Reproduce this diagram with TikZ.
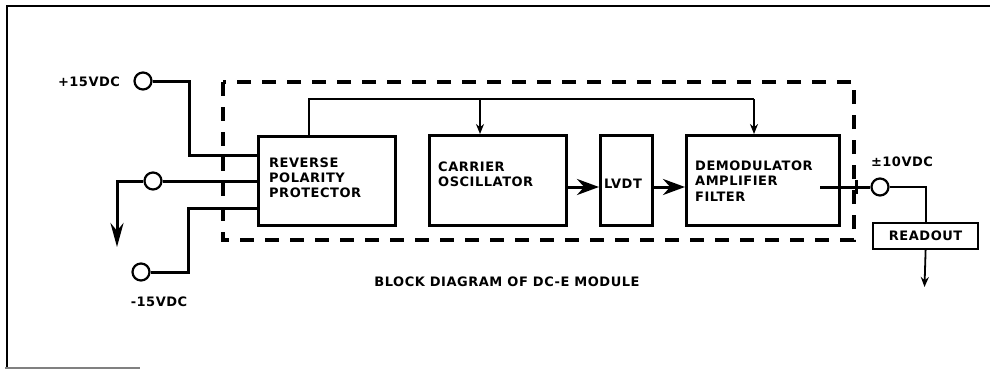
\documentclass[tikz,border=0pt]{standalone}
\usepackage{fontspec}
\setmainfont{DejaVu Sans}[LetterSpace=4]
\usetikzlibrary{arrows.meta}
\begin{document}
\begin{tikzpicture}[x=1pt,y=-1pt,
  font=\fontsize{13}{15.2}\selectfont\bfseries,
  blk/.style={draw, line width=3.4pt, inner sep=0pt, anchor=north west},
  lbl/.style={inner sep=0pt, align=left},
  wire/.style={line width=3pt},
  fbline/.style={line width=1.8pt},
  term/.style={circle, draw, line width=2.2pt, minimum size=17pt, inner sep=0pt, fill=white},
  dashbox/.style={line width=3.4pt, dash pattern=on 14pt off 11pt},
  bigarrow/.style={-{Stealth[length=22pt,width=16pt]}},
  smallarrow/.style={-{Stealth[length=10pt,width=8pt]}},
]
\useasboundingbox (0,0) rectangle (990,369);
% frame
\draw[line width=2.4pt] (990,6) -- (7,6) -- (7,368);
\draw[line width=1.5pt, gray] (5,368) -- (140,368);

% dashed module outline
\draw[dashbox] (223,82) rectangle (854,240);

% blocks
\node[blk, minimum width=137pt, minimum height=89pt] (rpp) at (257,135) {};
\node[blk, minimum width=137pt, minimum height=90pt] (car) at (428,134) {};
\node[blk, minimum width=52pt, minimum height=90pt] (lvdt) at (599,134) {};
\node[blk, minimum width=153pt, minimum height=90pt] (dem) at (685,134) {};
\node[draw, line width=2.2pt, minimum width=105pt, minimum height=26pt, inner sep=0pt, anchor=north west] (rd) at (872,222) {READOUT};

% block texts
\node[lbl, anchor=west] (trpp) at (269,178) {REVERSE\\POLARITY\\PROTECTOR};
\node[lbl, anchor=west] (tcar) at (438,174.5) {CARRIER\\OSCILLATOR};
\node[lbl] (tlvdt) at (623,184) {LVDT};
\node[lbl, anchor=west] (tdem) at (695,181) {DEMODULATOR\\AMPLIFIER\\FILTER};

% terminals
\node[term] (p15) at (143,81) {};
\node[term] (com) at (153,181) {};
\node[term] (m15) at (141,272) {};
\node[term] (out) at (880,187) {};

% terminal labels
\node[lbl] (lp15) at (89,82) {+15VDC};
\node[lbl] (lm15) at (159,302) {-15VDC};
\node[lbl] (lout) at (902,162) {±10VDC};
\node[lbl] (cap) at (507,282) {BLOCK DIAGRAM OF DC-E MODULE};

% supply wiring
\coordinate (b1) at (189,155);
\coordinate (b2) at (188,208);
\coordinate (gnd) at (117,247);
\draw[wire] (p15.east) -| (b1) -- (b1 -| rpp.west);
\draw[wire] (com.east) -- (com.east -| rpp.west);
\draw[wire, -{Stealth[length=24pt,width=13pt]}] (com.west) -| (gnd);
\draw[wire] (m15.east) -| (b2) -- (b2 -| rpp.west);

% feedback / supply bus
\coordinate (fb) at (309,99);
\coordinate (fbc) at (480,99);
\coordinate (fbr) at (754,99);
\draw[fbline] (fb |- rpp.north) -- (fb) -- (fbr);
\draw[fbline, smallarrow] (fbc) -- (fbc |- car.north);
\draw[fbline, smallarrow] (fbr) -- (fbr |- dem.north);

% signal path
\coordinate (sig) at (0,187);
\draw[wire, bigarrow] (car.east |- sig) -- (lvdt.west |- sig);
\draw[wire, bigarrow] (lvdt.east |- sig) -- (dem.west |- sig);

% output
\coordinate (o1) at (820,187);
\coordinate (tk1) at (856,180);
\coordinate (tk2) at (856,194);
\coordinate (rdo) at (924.5,287);
\draw[wire] (o1) -- (out.west);
\draw[wire] (tk1) -- (tk2);
\draw[fbline] (out.east) -| (rd.north);
\draw[fbline, smallarrow] (rd.south) -- (rdo);
\end{tikzpicture}
\end{document}
